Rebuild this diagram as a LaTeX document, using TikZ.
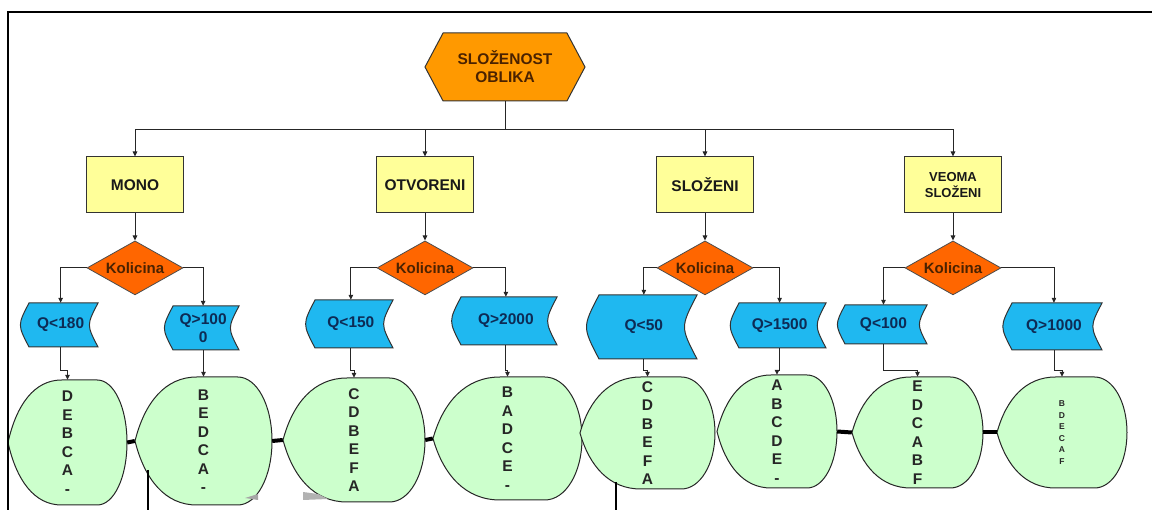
\documentclass[tikz,border=0pt]{standalone}
\usepackage{fontspec}
\setmainfont{Liberation Sans}
\usetikzlibrary{positioning, arrows.meta, shapes.geometric, shapes.symbols}

\definecolor{hexorange}{HTML}{FF9900}
\definecolor{boxyellow}{HTML}{FFFF99}
\definecolor{decorange}{HTML}{FF6600}
\definecolor{tapeblue}{HTML}{1FB8F0}
\definecolor{dispgreen}{HTML}{CCFFCC}
\definecolor{navytext}{HTML}{0D2B55}
\definecolor{browntext}{HTML}{4A2200}

% stored-data box: name, left, right, top, bottom, text
\newcommand{\tapenode}[6]{%
  \pgfmathsetmacro{\tpB}{0.13*(#5-#4)}
  \pgfmathsetmacro{\tpM}{(#4+#5)/2}
  \draw[tapeshape] (#2,#4) -- (#3,#4) .. controls ({#3-2*\tpB},\tpM) .. (#3,#5)
    -- (#2,#5) .. controls ({#2-2*\tpB},\tpM) .. (#2,#4) -- cycle;
  \node[tapetext, minimum width={(#3-#2)*1pt}, minimum height={(#5-#4)*1pt}] (#1) at ({(#2+#3)/2-\tpB/2},\tpM) {#6};
}

% display box: [options] name, left, right, top, bottom, letters
\newcommand{\dispnode}[7][]{%
  \pgfmathsetmacro{\dpW}{#4-#3}
  \pgfmathsetmacro{\dpH}{#6-#5}
  \pgfmathsetmacro{\dpM}{(#5+#6)/2}
  \pgfmathsetmacro{\dpA}{#3+0.45*\dpW}
  \pgfmathsetmacro{\dpB}{#4-0.25*\dpW}
  \draw[dispshape] (#3,\dpM)
    .. controls ({#3+0.07*\dpW},{\dpM-0.3*\dpH}) and ({#3+0.22*\dpW},#5) .. (\dpA,#5)
    -- (\dpB,#5)
    .. controls ({#4-0.11*\dpW},#5) and (#4,{\dpM-0.28*\dpH}) .. (#4,\dpM)
    .. controls (#4,{\dpM+0.28*\dpH}) and ({#4-0.11*\dpW},#6) .. (\dpB,#6)
    -- (\dpA,#6)
    .. controls ({#3+0.22*\dpW},#6) and ({#3+0.07*\dpW},{\dpM+0.3*\dpH}) .. (#3,\dpM) -- cycle;
  \node[disptext, minimum width={\dpW pt}, minimum height={\dpH pt}, #1] (#2) at ({(#3+#4)/2},\dpM) {#7};
}

\begin{document}
\begin{tikzpicture}[
    x=1pt, y=-1pt,
    hexbox/.style={shape=signal, signal to=west and east, signal pointer angle=124, draw=black!80, line width=1pt, fill=hexorange, minimum width=160pt, minimum height=68pt, inner sep=0pt, align=center, text=browntext, font=\bfseries\fontsize{15.5}{18}\selectfont},
    catbox/.style={draw=black!80, line width=1pt, fill=boxyellow, minimum width=97pt, minimum height=56pt, inner sep=0pt, align=center, text=black!90, font=\bfseries\fontsize{15.5}{17}\selectfont},
    decision/.style={diamond, aspect=1.8, draw=black!70, line width=0.8pt, fill=decorange, minimum width=96pt, minimum height=54pt, inner sep=0pt, text=browntext, font=\bfseries\fontsize{15}{17}\selectfont},
    tapeshape/.style={draw=black!80, line width=1pt, fill=tapeblue},
    tapetext/.style={inner sep=0pt, align=center, text=navytext, font=\bfseries\fontsize{15.5}{18}\selectfont},
    dispshape/.style={draw=black!85, line width=1pt, fill=dispgreen},
    disptext/.style={inner sep=0pt, align=center, text=black!85, font=\bfseries\fontsize{15.5}{18.5}\selectfont},
    arrow/.style={-{Triangle[length=5pt,width=4.5pt]}, line width=0.9pt, draw=black!85},
    link/.style={line width=4pt, draw=black},
    frame/.style={line width=2pt, draw=black}
]
\useasboundingbox (0,0) rectangle (1152,510);

\node[hexbox] (hex) at (505,67) {SLOŽENOST\\OBLIKA};

\node[catbox] (b1) at (135,185) {MONO};
\node[catbox] (b2) at (425,185) {OTVORENI};
\node[catbox] (b3) at (705,185) {SLOŽENI};
\node[catbox, font=\bfseries\fontsize{13}{15.5}\selectfont] (b4) at (953,185) {VEOMA\\SLOŽENI};

\node[decision, below=27pt of b1] (d1) {Kolicina};
\node[decision, below=27pt of b2] (d2) {Kolicina};
\node[decision, below=27pt of b3] (d3) {Kolicina};
\node[decision, below=27pt of b4] (d4) {Kolicina};

\tapenode{t1}{29}{98}{303}{347}{Q<180}
\tapenode{t2}{173}{239}{306}{350}{Q>100\\0}
\tapenode{t3}{315}{393}{300}{348}{Q<150}
\tapenode{t4}{461}{557}{297}{345}{Q>2000}
\tapenode{t5}{599}{697}{295}{359}{Q<50}
\tapenode{t6}{739}{826}{303}{348}{Q>1500}
\tapenode{t7}{845}{927}{305}{344}{Q<100}
\tapenode{t8}{1012}{1102}{303}{350}{Q>1000}

\dispnode{s1}{8}{127}{380}{505}{D\\E\\B\\C\\A\\-}
\dispnode{s2}{135}{272}{377}{505}{B\\E\\D\\C\\A\\-}
\dispnode{s3}{283}{425}{378}{502}{C\\D\\B\\E\\F\\A}
\dispnode{s4}{433}{582}{377}{500}{B\\A\\D\\C\\E\\-}
\dispnode{s5}{580}{715}{377}{489}{C\\D\\B\\E\\F\\A}
\dispnode{s6}{717}{837}{375}{488}{A\\B\\C\\D\\E\\-}
\dispnode{s7}{852}{983}{377}{488}{E\\D\\C\\A\\B\\F}
\dispnode[font=\bfseries\fontsize{8.5}{11.6}\selectfont]{s8}{997}{1127}{377}{488}{B\\D\\E\\C\\A\\F}

% tree
\coordinate (bus) at (506,129);
\foreach \b in {b1,b2,b3,b4}
  \draw[arrow] (hex.south) -- (hex.south |- bus) -| (\b.north);
\foreach \i in {1,...,4}
  \draw[arrow] (b\i.south) -- (d\i.north);
\foreach \i/\l/\r in {1/1/2, 2/3/4, 3/5/6, 4/7/8} {
  \draw[arrow] (d\i.west) -| (t\l.north);
  \draw[arrow] (d\i.east) -| (t\r.north);
}
\foreach \i in {1,...,8}
  \draw[arrow] (t\i.south) -- (t\i.south |- 0,370) -| (s\i.north);

% links between the results
\foreach \a/\b in {s1/s2, s2/s3, s3/s4, s6/s7, s7/s8}
  \draw[link] (\a.east) -- (\b.west);

% cut-off lines at the bottom
\draw[line width=2.5pt] (148,470) -- (148,510);
\draw[line width=2.5pt] (616,482) -- (616,510);
\fill[black!35] (245,498) -- (258,494) -- (258,500) -- cycle;
\fill[black!30] (303,492) -- (318,494) -- (328,499) -- (303,500) -- cycle;

\draw[frame] (8,510) -- (8,12) -- (1152,12);
\end{tikzpicture}
\end{document}
